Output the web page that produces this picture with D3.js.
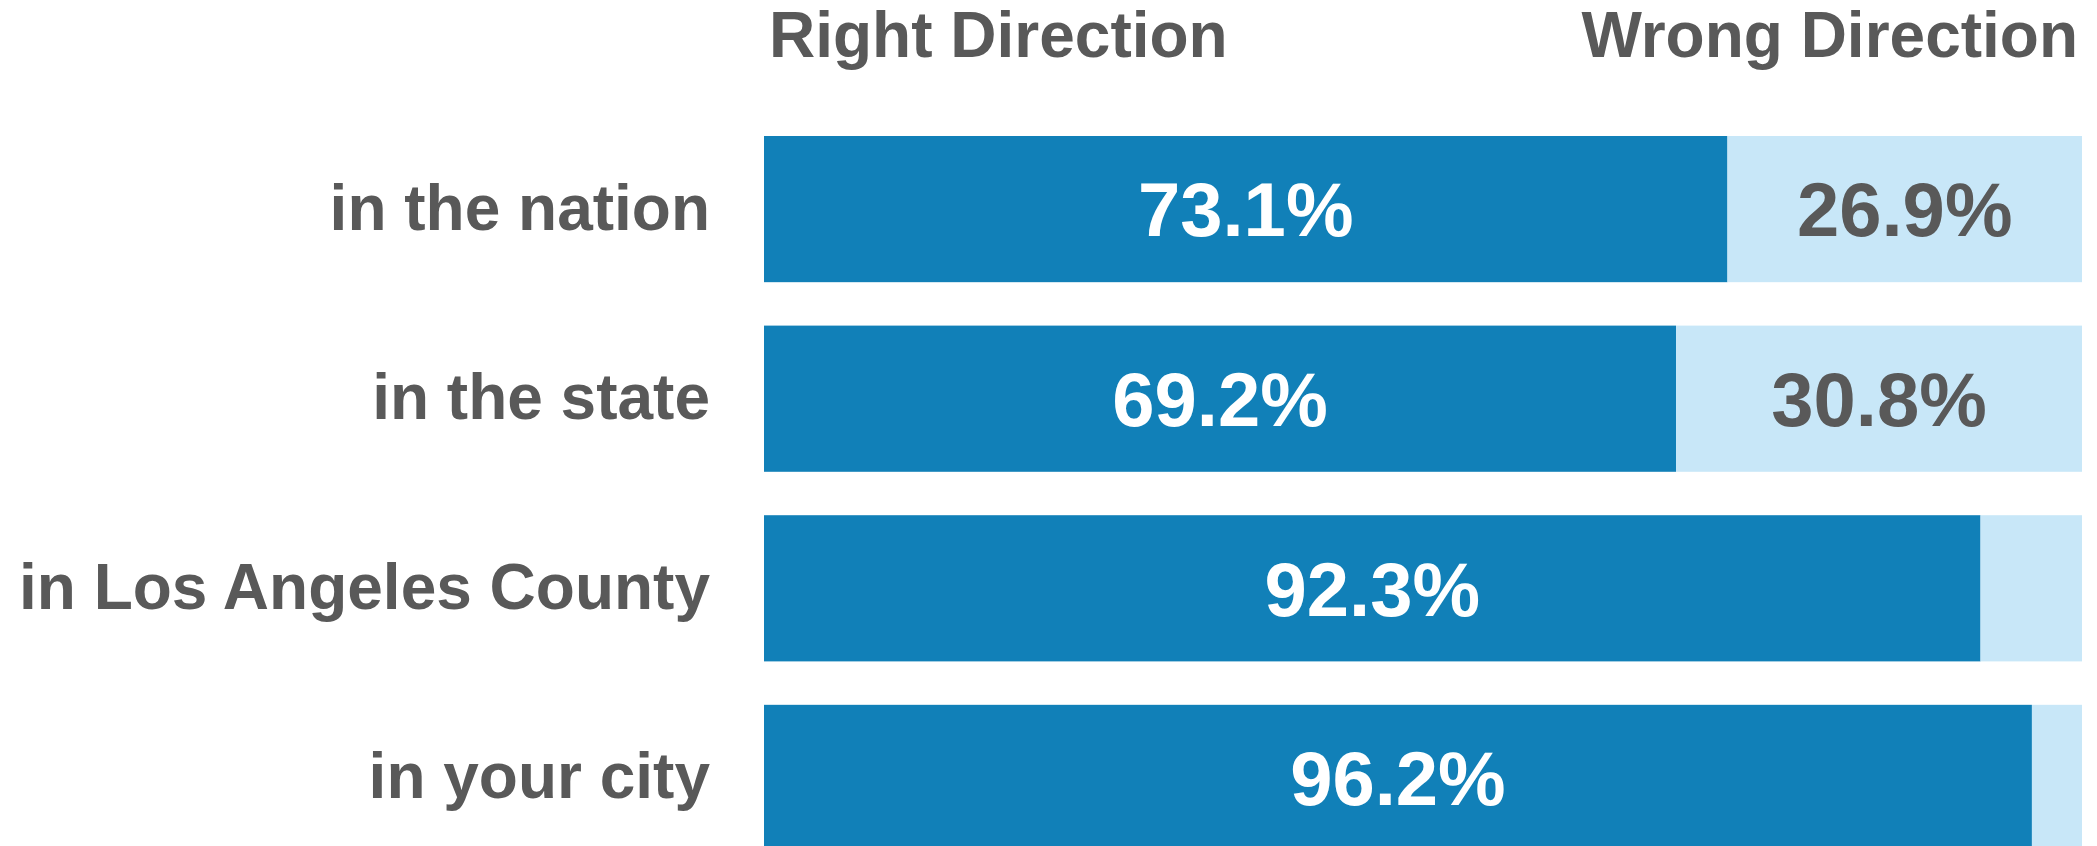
<!DOCTYPE html>
<html>
<head>
<meta charset="utf-8">
<script src="https://cdn.jsdelivr.net/npm/d3@7.9.0/dist/d3.min.js"></script>
<style>
  html, body { margin: 0; padding: 0; background: #fff; }
  svg { display: block; font-family: "Liberation Sans", Arial, sans-serif; font-weight: bold; }
</style>
</head>
<body>
<svg id="chart" width="2097" height="846"></svg>
<script>
// Data
const categories = ['in the nation', 'in the state', 'in Los Angeles County', 'in your city'];
const rightDirection = [73.1, 69.2, 92.3, 96.2];
const wrongDirection = [26.9, 30.8, 7.7, 3.8];
const seriesNames = ['Right Direction', 'Wrong Direction'];

const darkBlue = '#1180b8';
const lightBlue = '#c8e7f8';
const gray = '#595959';

const svg = d3.select('#chart');

// Scales
const x = d3.scaleLinear().domain([0, 100]).range([764, 2082]);
const y = d3.scaleBand()
  .domain(categories)
  .range([136, 851])
  .paddingInner(0.229)
  .paddingOuter(0);

// Build stacked rows
const rows = categories.map((c, i) => ({
  category: c,
  right: rightDirection[i],
  wrong: wrongDirection[i]
}));

// Right direction segments
svg.selectAll('rect.right')
  .data(rows)
  .enter()
  .append('rect')
  .attr('class', 'right')
  .attr('x', x(0))
  .attr('y', d => y(d.category))
  .attr('width', d => x(d.right) - x(0))
  .attr('height', y.bandwidth())
  .attr('fill', darkBlue);

// Wrong direction segments
svg.selectAll('rect.wrong')
  .data(rows)
  .enter()
  .append('rect')
  .attr('class', 'wrong')
  .attr('x', d => x(d.right))
  .attr('y', d => y(d.category))
  .attr('width', d => x(d.right + d.wrong) - x(d.right))
  .attr('height', y.bandwidth())
  .attr('fill', lightBlue);

// Value labels in the dark segments
svg.selectAll('text.right-label')
  .data(rows)
  .enter()
  .append('text')
  .attr('class', 'right-label')
  .attr('x', d => (x(0) + x(d.right)) / 2)
  .attr('y', d => y(d.category) + y.bandwidth() / 2)
  .attr('dy', '0.36em')
  .attr('text-anchor', 'middle')
  .attr('font-size', 76)
  .attr('fill', '#fff')
  .text(d => d.right.toFixed(1) + '%');

// Value labels in the light segments (only where there is room)
svg.selectAll('text.wrong-label')
  .data(rows.filter(d => d.wrong > 15))
  .enter()
  .append('text')
  .attr('class', 'wrong-label')
  .attr('x', d => (x(d.right) + x(d.right + d.wrong)) / 2)
  .attr('y', d => y(d.category) + y.bandwidth() / 2)
  .attr('dy', '0.36em')
  .attr('text-anchor', 'middle')
  .attr('font-size', 76)
  .attr('fill', gray)
  .text(d => d.wrong.toFixed(1) + '%');

// Category labels
svg.selectAll('text.cat')
  .data(categories)
  .enter()
  .append('text')
  .attr('class', 'cat')
  .attr('x', 710)
  .attr('y', d => y(d) + y.bandwidth() / 2)
  .attr('dy', '0.32em')
  .attr('text-anchor', 'end')
  .attr('font-size', 64)
  .attr('fill', gray)
  .text(d => d);

// Series headers
svg.append('text')
  .attr('x', x(0) + 5)
  .attr('y', 57)
  .attr('font-size', 64)
  .attr('fill', gray)
  .text(seriesNames[0]);

svg.append('text')
  .attr('x', x(100) - 4)
  .attr('y', 57)
  .attr('text-anchor', 'end')
  .attr('font-size', 64)
  .attr('fill', gray)
  .text(seriesNames[1]);
</script>
</body>
</html>
